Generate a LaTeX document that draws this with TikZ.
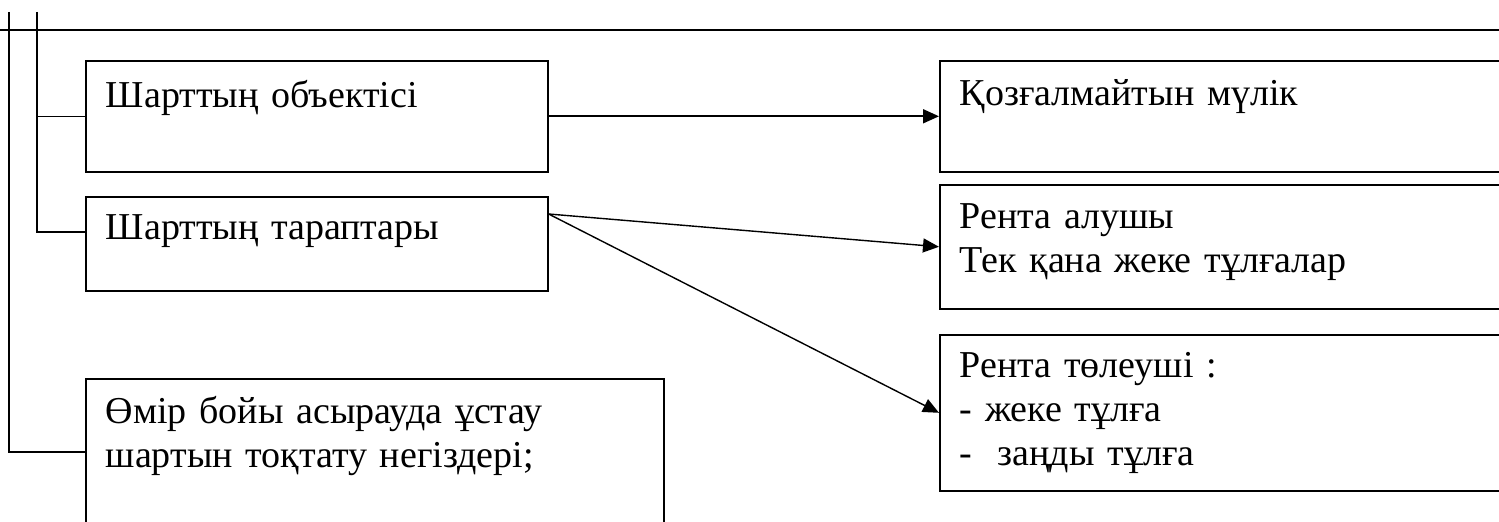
\documentclass[tikz,border=0pt]{standalone}
\usepackage{fontspec}
\setmainfont{Liberation Serif}
\usetikzlibrary{arrows.meta}

\begin{document}
\begin{tikzpicture}[x=0.5pt, y=-0.5pt, >={Triangle[length=8pt,width=7pt]},
    box/.style={draw, line width=0.8pt, anchor=north west, align=left,
      inner xsep=10pt, inner ysep=0pt, font=\fontsize{19}{22}\selectfont},
    link/.style={line width=0.7pt}]
  \useasboundingbox (0, 0) rectangle (1499, 522);
  \clip (0, 0) rectangle (1499, 522);
  % left column
  \node[box, text width=211pt, text height=23.5pt, text depth=32pt] (b1) at (85, 60) {Шарттың объектісі};
  \node[box, text width=211pt, text height=21.5pt, text depth=25.5pt] (b2) at (85, 196) {Шарттың тараптары};
  \node[box, text width=269pt, text height=22.5pt, text depth=58.5pt] (b3) at (85, 378) {Өмір бойы асырауда ұстау\\шартын тоқтату негіздері;};
  % right column
  \node[box, text width=290pt, text height=22.5pt, text depth=33pt] (r1) at (939, 60) {Қозғалмайтын мүлік};
  \node[box, text width=290pt, text height=22pt, text depth=40pt] (r2) at (939, 184) {Рента алушы\\Тек қана жеке тұлғалар};
  \node[box, text width=290pt, text height=21.5pt, text depth=56.5pt] (r3) at (939, 334) {Рента төлеуші :\\- жеке тұлға\\-\ \ заңды тұлға};
  % connectors
  \coordinate (top1) at (9, 12);
  \coordinate (top2) at (37, 12);
  \draw[link] (0, 30) -- (1499, 30);
  \draw[link] (top1) |- ([yshift=-37pt]b3.north west);
  \draw[link] (top2) |- ([yshift=-18pt]b2.north west);
  \draw[link] (b1.west -| top2) -- (b1.west);
  \draw[link, ->, line width=0.9pt] (b1.east) -- (r1.west);
  \draw[link, ->] ([yshift=-9pt]b2.north east) -- (r2.west);
  \draw[link, ->] ([yshift=-9pt]b2.north east) -- (r3.west);
\end{tikzpicture}
\end{document}
